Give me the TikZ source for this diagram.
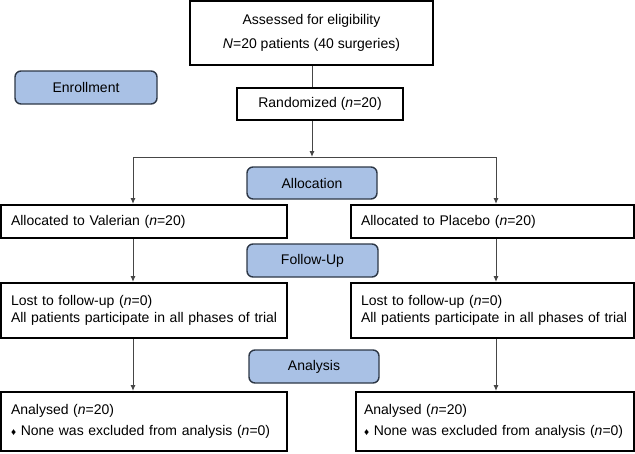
\documentclass[tikz,border=0pt]{standalone}
\usepackage{fontspec}
\setmainfont{Liberation Sans}
\usetikzlibrary{arrows.meta}
\definecolor{phasefill}{RGB}{169,193,229}
\definecolor{phaseline}{RGB}{45,55,70}
\definecolor{linkgray}{RGB}{70,70,70}
\newcommand{\dmd}{{\fontsize{10}{10}\selectfont ♦}}
\begin{document}
\begin{tikzpicture}[x=1pt,y=-1pt,
  every node/.style={font=\fontsize{14}{17}\selectfont},
  whitebox/.style={draw=black, line width=2pt, fill=white, inner sep=0pt},
  leftbox/.style={whitebox, align=left, inner xsep=10pt},
  phasebox/.style={draw=phaseline, line width=1.4pt, fill=phasefill, rounded corners=6pt, inner sep=0pt, align=center},
  link/.style={draw=linkgray, line width=1pt},
  arr/.style={link, -{Latex[length=6pt,width=5pt]}}
]
\useasboundingbox (0,0) rectangle (635,453);
% column coordinates
\coordinate (cM) at (312,0);
\coordinate (cL) at (133,0);
\coordinate (cR) at (496,0);
\coordinate (hy) at (0,157);
% boxes
\node[whitebox, minimum width=243pt, minimum height=64pt, align=center] (assess) at (311.5,33)
  {Assessed for eligibility\\[7pt]\textit{N}=20 patients (40 surgeries)};
\node[phasebox, minimum width=142pt, minimum height=33pt] (enroll) at (86,87.5) {Enrollment};
\node[whitebox, minimum width=166pt, minimum height=32pt] (rand) at (320,104) {Randomized (\textit{n}=20)};
\node[phasebox, minimum width=130pt, minimum height=32pt] (alloc) at (312,183) {Allocation};
\node[leftbox, minimum width=286pt, minimum height=33pt, text width=266pt] (val) at (144,221.5)
  {\mbox{Allocated to Valerian (\textit{n}=20)}};
\node[leftbox, minimum width=283pt, minimum height=33pt, text width=263pt] (plac) at (492.5,221.5)
  {\mbox{Allocated to Placebo (\textit{n}=20)}};
\node[phasebox, minimum width=131pt, minimum height=33pt] (follow) at (312.5,260.5) {Follow-Up};
\node[leftbox, minimum width=286pt, minimum height=55pt, text width=266pt] (lostL) at (144,310.5)
  {\mbox{Lost to follow-up (\textit{n}=0)}\\\mbox{All patients participate in all phases of trial}};
\node[leftbox, minimum width=283pt, minimum height=55pt, text width=263pt] (lostR) at (492.5,310.5)
  {\mbox{Lost to follow-up (\textit{n}=0)}\\\mbox{All patients participate in all phases of trial}};
\node[phasebox, minimum width=130pt, minimum height=33pt] (analysis) at (314,366.5) {Analysis};
\node[leftbox, minimum width=286pt, minimum height=59pt, text width=266pt] (anL) at (144,421.5)
  {\mbox{Analysed (\textit{n}=20)}\\[4pt]\mbox{\dmd\ None was excluded from analysis (\textit{n}=0)}};
\node[leftbox, minimum width=278pt, minimum height=59pt, text width=262pt, inner xsep=8pt] (anR) at (495,421.5)
  {\mbox{Analysed (\textit{n}=20)}\\[4pt]\mbox{\dmd\ None was excluded from analysis (\textit{n}=0)}};
% connectors
\draw[link] (assess.south -| cM) -- (rand.north -| cM);
\coordinate (split) at (hy -| cM);
\coordinate (splitL) at (hy -| cL);
\coordinate (splitR) at (hy -| cR);
\draw[arr] (rand.south -| cM) -- (split);
\draw[link] (splitL) -- (splitR);
\draw[arr] (splitL) -- (val.north -| cL);
\draw[arr] (splitR) -- (plac.north -| cR);
\draw[arr] (val.south -| cL) -- (lostL.north -| cL);
\draw[arr] (plac.south -| cR) -- (lostR.north -| cR);
\draw[arr] (lostL.south -| cL) -- (anL.north -| cL);
\draw[arr] (lostR.south -| cR) -- (anR.north -| cR);
\end{tikzpicture}
\end{document}
